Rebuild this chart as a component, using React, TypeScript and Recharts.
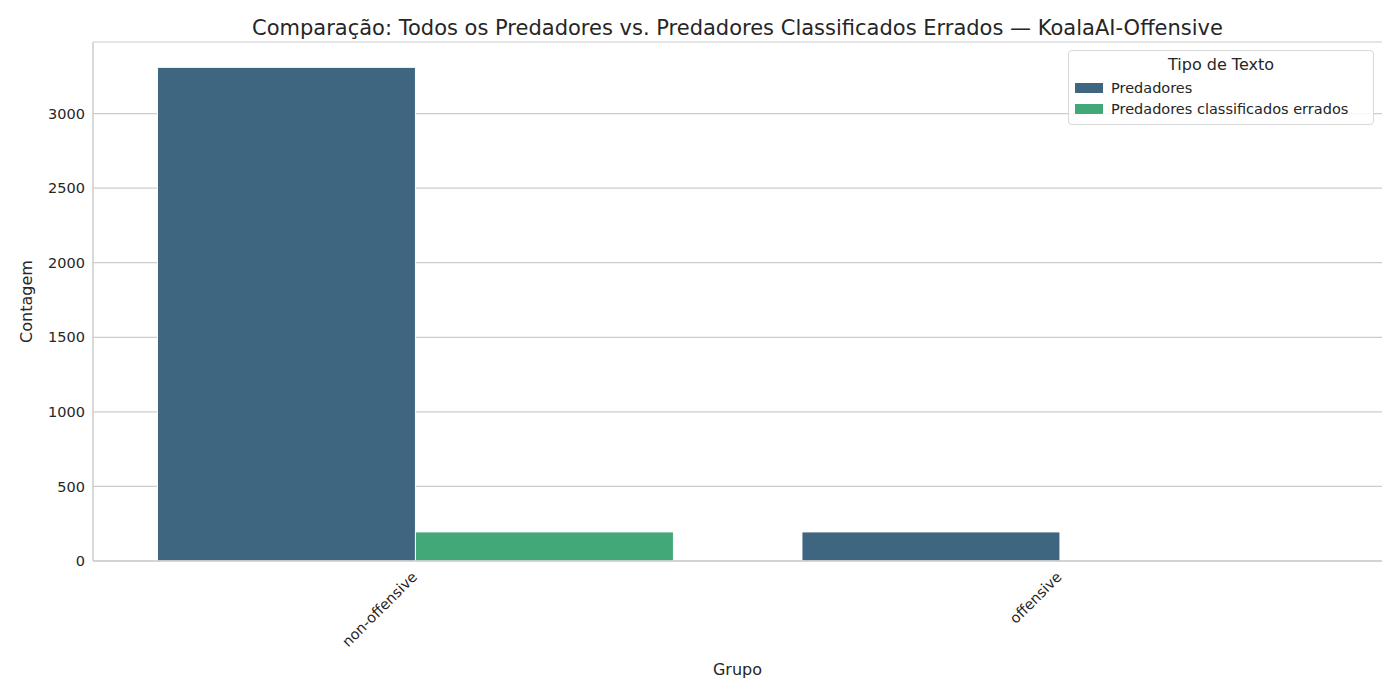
import React from "react";
import { BarChart, Bar, XAxis, YAxis, CartesianGrid, Label } from "recharts";

const categories = ["non-offensive", "offensive"];
const predadores = [3310, 195];
const errados = [195, 0];
const yTicks = [0, 500, 1000, 1500, 2000, 2500, 3000];

const data = categories.map((c, i) => ({ grupo: c, p: predadores[i], e: errados[i] }));
const font = "DejaVu Sans, sans-serif";

const XTick = (props: any) => {
  const { x, y, payload } = props;
  return (
    <text x={x} y={y + 6} transform={`rotate(-45, ${x}, ${y + 6})`} textAnchor="end" fontSize={14.5} fill="#262626" fontFamily={font} dy={4}>
      {payload.value}
    </text>
  );
};

export default function App() {
  return (
    <div style={{ margin: -8, width: 1400, height: 700, position: "relative", background: "#fff", fontFamily: font }}>
      <div style={{ position: "absolute", top: 16, left: 0, width: 1475, textAlign: "center", fontSize: 21, color: "#262626" }}>
        Comparação: Todos os Predadores vs. Predadores Classificados Errados — KoalaAI-Offensive
      </div>
      <BarChart width={1400} height={700} data={data} margin={{ top: 42, right: 18, bottom: 79, left: 0 }} barCategoryGap="10%" barGap={0}>
        <CartesianGrid vertical={false} stroke="#cccccc" strokeWidth={1.2} />
        <XAxis dataKey="grupo" height={60} tick={<XTick />} tickLine={false} axisLine={{ stroke: "#cccccc", strokeWidth: 1.5 }} interval={0}>
          <Label value="Grupo" position="insideBottom" offset={-54} style={{ fontSize: 16, fill: "#262626", fontFamily: font }} />
        </XAxis>
        <YAxis width={93} domain={[0, 3480]} ticks={yTicks} tickLine={false} axisLine={{ stroke: "#cccccc", strokeWidth: 1.5 }} tick={{ fontSize: 14.5, fill: "#262626", fontFamily: font }}>
          <Label value="Contagem" angle={-90} position="insideLeft" offset={26} style={{ fontSize: 16, fill: "#262626", fontFamily: font, textAnchor: "middle" }} />
        </YAxis>
        <Bar dataKey="p" fill="#3e6680" stroke="#ffffff" strokeWidth={1} isAnimationActive={false} />
        <Bar dataKey="e" fill="#43a877" stroke="#ffffff" strokeWidth={1} isAnimationActive={false} />
      </BarChart>
      <div style={{ position: "absolute", right: 26, top: 50, width: 306, border: "1px solid #d9d9d9", borderRadius: 4, background: "rgba(255,255,255,0.85)", padding: "4px 6px 2px", boxSizing: "border-box", fontSize: 14.5, color: "#262626" }}>
        <div style={{ textAlign: "center", fontSize: 16, marginBottom: 6 }}>Tipo de Texto</div>
        {[["Predadores", "#3e6680"], ["Predadores classificados errados", "#43a877"]].map(([t, c]) => (
          <div key={t} style={{ display: "flex", alignItems: "center", marginBottom: 5 }}>
            <span style={{ width: 28, height: 10, background: c, marginRight: 8, display: "inline-block" }} />
            {t}
          </div>
        ))}
      </div>
    </div>
  );
}
